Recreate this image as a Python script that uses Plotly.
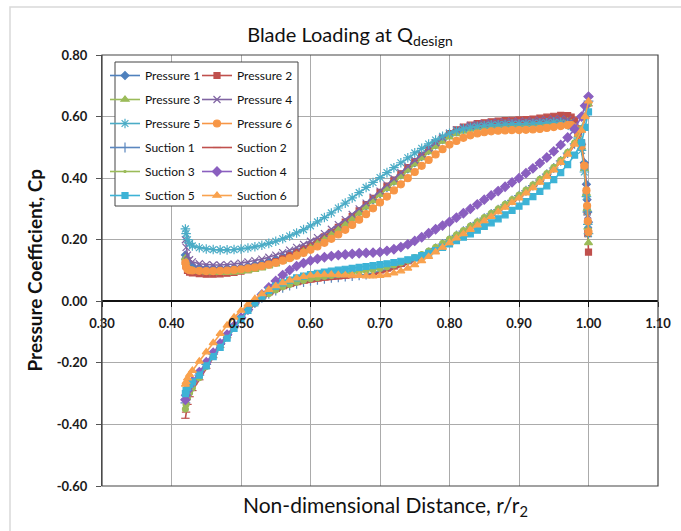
import plotly.graph_objects as go

# ---------------- data ----------------
x_p = [0.420, 0.421, 0.423, 0.426, 0.430,
       0.44, 0.45, 0.46, 0.47, 0.48, 0.49, 0.50, 0.51, 0.52, 0.53, 0.54, 0.55, 0.56, 0.57, 0.58, 0.59,
       0.60, 0.61, 0.62, 0.63, 0.64, 0.65, 0.66, 0.67, 0.68, 0.69, 0.70, 0.71, 0.72, 0.73, 0.74, 0.75,
       0.76, 0.77, 0.78, 0.79, 0.80, 0.81, 0.82, 0.83, 0.84, 0.85, 0.86, 0.87, 0.88, 0.89, 0.90, 0.91,
       0.92, 0.93, 0.94, 0.95, 0.96, 0.97,
       0.975, 0.980, 0.985, 0.990, 0.994, 0.997, 0.998, 0.999, 1.000]

pressure_1 = [0.150, 0.140, 0.125, 0.118, 0.114,
              0.110, 0.108, 0.107, 0.107, 0.108, 0.109, 0.110, 0.114, 0.118, 0.123, 0.129, 0.135, 0.143, 0.152, 0.162, 0.171,
              0.180, 0.193, 0.207, 0.222, 0.238, 0.255, 0.272, 0.290, 0.310, 0.330, 0.350, 0.370, 0.390, 0.410, 0.430, 0.450,
              0.470, 0.490, 0.508, 0.525, 0.540, 0.551, 0.559, 0.565, 0.570, 0.573, 0.576, 0.578, 0.579, 0.580, 0.580, 0.581,
              0.582, 0.584, 0.586, 0.588, 0.589, 0.587,
              0.582, 0.572, 0.550, 0.510, 0.450, 0.380, 0.330, 0.290, 0.257]
pressure_2 = [0.130, 0.115, 0.100, 0.095, 0.092,
              0.090, 0.088, 0.088, 0.089, 0.091, 0.094, 0.098, 0.103, 0.108, 0.114, 0.121, 0.129, 0.138, 0.148, 0.159, 0.170,
              0.182, 0.195, 0.209, 0.224, 0.240, 0.257, 0.275, 0.294, 0.314, 0.334, 0.354, 0.374, 0.394, 0.414, 0.434, 0.454,
              0.474, 0.494, 0.512, 0.529, 0.545, 0.557, 0.566, 0.572, 0.577, 0.580, 0.583, 0.585, 0.587, 0.588, 0.589, 0.590,
              0.592, 0.595, 0.598, 0.601, 0.604, 0.603,
              0.598, 0.588, 0.560, 0.515, 0.440, 0.350, 0.290, 0.220, 0.160]
pressure_3 = [0.140, 0.125, 0.110, 0.104, 0.100,
              0.097, 0.095, 0.094, 0.093, 0.093, 0.094, 0.096, 0.099, 0.103, 0.108, 0.114, 0.121, 0.130, 0.140, 0.151, 0.162,
              0.174, 0.187, 0.201, 0.216, 0.232, 0.249, 0.267, 0.286, 0.306, 0.326, 0.346, 0.366, 0.386, 0.406, 0.426, 0.446,
              0.466, 0.485, 0.503, 0.519, 0.533, 0.544, 0.552, 0.558, 0.562, 0.565, 0.567, 0.569, 0.570, 0.571, 0.572, 0.573,
              0.575, 0.577, 0.580, 0.583, 0.585, 0.584,
              0.578, 0.566, 0.540, 0.500, 0.430, 0.350, 0.300, 0.240, 0.190]
pressure_4 = [0.200, 0.175, 0.150, 0.135, 0.128,
              0.122, 0.119, 0.118, 0.118, 0.119, 0.121, 0.124, 0.128, 0.132, 0.137, 0.143, 0.150, 0.158, 0.166, 0.175, 0.185,
              0.195, 0.207, 0.220, 0.234, 0.249, 0.265, 0.282, 0.300, 0.319, 0.338, 0.358, 0.378, 0.398, 0.418, 0.438, 0.458,
              0.478, 0.497, 0.515, 0.531, 0.546, 0.557, 0.565, 0.571, 0.575, 0.578, 0.580, 0.582, 0.583, 0.584, 0.584, 0.585,
              0.586, 0.588, 0.590, 0.592, 0.593, 0.590,
              0.584, 0.572, 0.548, 0.505, 0.440, 0.370, 0.320, 0.280, 0.250]
pressure_5 = [0.235, 0.220, 0.200, 0.188, 0.180,
              0.174, 0.170, 0.168, 0.167, 0.167, 0.168, 0.170, 0.173, 0.177, 0.182, 0.188, 0.195, 0.203, 0.212, 0.222, 0.233,
              0.245, 0.258, 0.272, 0.287, 0.303, 0.319, 0.336, 0.353, 0.370, 0.386, 0.402, 0.418, 0.434, 0.450, 0.466, 0.482,
              0.497, 0.511, 0.524, 0.536, 0.546, 0.554, 0.560, 0.565, 0.568, 0.571, 0.573, 0.574, 0.575, 0.576, 0.576, 0.577,
              0.578, 0.579, 0.580, 0.581, 0.580, 0.575,
              0.568, 0.556, 0.530, 0.490, 0.420, 0.340, 0.290, 0.250, 0.220]
pressure_6 = [0.125, 0.112, 0.104, 0.101, 0.100,
              0.099, 0.098, 0.098, 0.099, 0.100, 0.102, 0.104, 0.107, 0.110, 0.114, 0.119, 0.125, 0.132, 0.140, 0.148, 0.157,
              0.167, 0.178, 0.190, 0.203, 0.217, 0.232, 0.248, 0.265, 0.283, 0.302, 0.321, 0.340, 0.360, 0.380, 0.400, 0.420,
              0.440, 0.459, 0.477, 0.494, 0.509, 0.521, 0.531, 0.539, 0.545, 0.549, 0.552, 0.554, 0.555, 0.556, 0.556, 0.557,
              0.558, 0.560, 0.563, 0.566, 0.569, 0.572,
              0.572, 0.565, 0.545, 0.505, 0.440, 0.360, 0.310, 0.260, 0.225]

x_s = [0.420, 0.421, 0.423, 0.426, 0.430,
       0.44, 0.45, 0.46, 0.47, 0.48, 0.49, 0.50, 0.51, 0.52, 0.53, 0.54, 0.55, 0.56, 0.57, 0.58, 0.59,
       0.60, 0.61, 0.62, 0.63, 0.64, 0.65, 0.66, 0.67, 0.68, 0.69, 0.70, 0.71, 0.72, 0.73, 0.74, 0.75,
       0.76, 0.77, 0.78, 0.79, 0.80, 0.81, 0.82, 0.83, 0.84, 0.85, 0.86, 0.87, 0.88, 0.89, 0.90, 0.91,
       0.92, 0.93, 0.94, 0.95, 0.96, 0.97, 0.98, 0.99,
       0.995, 1.000]

suction_1 = [-0.330, -0.318, -0.300, -0.285, -0.270,
             -0.240, -0.205, -0.172, -0.140, -0.110, -0.080, -0.052, -0.027, -0.006, 0.011, 0.024, 0.035, 0.044, 0.051, 0.057, 0.062,
             0.066, 0.070, 0.073, 0.076, 0.078, 0.080, 0.082, 0.084, 0.087, 0.091, 0.096, 0.102, 0.109, 0.117, 0.126, 0.136,
             0.147, 0.159, 0.172, 0.186, 0.200, 0.214, 0.228, 0.242, 0.256, 0.270, 0.284, 0.298, 0.313, 0.328, 0.343, 0.359,
             0.376, 0.394, 0.413, 0.433, 0.456, 0.481, 0.511, 0.555,
             0.600, 0.650]
suction_2 = [-0.380, -0.360, -0.335, -0.310, -0.290,
             -0.255, -0.218, -0.183, -0.150, -0.118, -0.087, -0.058, -0.032, -0.010, 0.008, 0.021, 0.032, 0.041, 0.048, 0.054, 0.059,
             0.063, 0.066, 0.069, 0.071, 0.073, 0.075, 0.077, 0.080, 0.083, 0.087, 0.092, 0.098, 0.105, 0.113, 0.122, 0.132,
             0.143, 0.155, 0.168, 0.182, 0.196, 0.210, 0.224, 0.238, 0.252, 0.266, 0.280, 0.294, 0.309, 0.324, 0.339, 0.355,
             0.372, 0.390, 0.409, 0.429, 0.452, 0.477, 0.507, 0.550,
             0.595, 0.635]
suction_3 = [-0.350, -0.335, -0.315, -0.298, -0.282,
             -0.248, -0.212, -0.178, -0.145, -0.114, -0.084, -0.055, -0.029, -0.007, 0.011, 0.025, 0.037, 0.047, 0.055, 0.062, 0.068,
             0.073, 0.077, 0.081, 0.084, 0.087, 0.090, 0.093, 0.096, 0.099, 0.103, 0.107, 0.112, 0.118, 0.125, 0.133, 0.142,
             0.152, 0.163, 0.175, 0.188, 0.202, 0.216, 0.230, 0.244, 0.258, 0.272, 0.286, 0.300, 0.315, 0.330, 0.345, 0.361,
             0.378, 0.396, 0.415, 0.435, 0.458, 0.484, 0.515, 0.560,
             0.600, 0.640]
suction_4 = [-0.320, -0.305, -0.290, -0.275, -0.260,
             -0.230, -0.198, -0.167, -0.137, -0.108, -0.080, -0.053, -0.027, -0.002, 0.022, 0.045, 0.066, 0.085, 0.101, 0.114, 0.124,
             0.132, 0.138, 0.143, 0.147, 0.150, 0.152, 0.154, 0.156, 0.157, 0.158, 0.160, 0.164, 0.169, 0.176, 0.185, 0.196,
             0.208, 0.221, 0.234, 0.246, 0.258, 0.272, 0.286, 0.300, 0.315, 0.330, 0.344, 0.358, 0.372, 0.386, 0.400, 0.416,
             0.432, 0.449, 0.467, 0.487, 0.508, 0.532, 0.560, 0.600,
             0.635, 0.665]
suction_5 = [-0.300, -0.290, -0.280, -0.270, -0.262,
             -0.240, -0.210, -0.180, -0.150, -0.120, -0.088, -0.058, -0.030, -0.005, 0.017, 0.035, 0.049, 0.060, 0.069, 0.076, 0.082,
             0.087, 0.091, 0.095, 0.098, 0.101, 0.104, 0.107, 0.110, 0.113, 0.116, 0.119, 0.122, 0.126, 0.130, 0.135, 0.141,
             0.148, 0.156, 0.165, 0.175, 0.186, 0.197, 0.208, 0.219, 0.231, 0.243, 0.255, 0.268, 0.281, 0.295, 0.309, 0.324,
             0.340, 0.357, 0.375, 0.395, 0.418, 0.444, 0.475, 0.515,
             0.565, 0.615]
suction_6 = [-0.270, -0.262, -0.250, -0.238, -0.225,
             -0.195, -0.165, -0.135, -0.105, -0.078, -0.052, -0.030, -0.010, 0.008, 0.024, 0.038, 0.050, 0.060, 0.068, 0.075, 0.080,
             0.084, 0.086, 0.087, 0.087, 0.086, 0.085, 0.084, 0.083, 0.082, 0.082, 0.083, 0.086, 0.091, 0.098, 0.107, 0.118,
             0.131, 0.145, 0.160, 0.175, 0.190, 0.205, 0.219, 0.233, 0.247, 0.261, 0.275, 0.290, 0.305, 0.320, 0.335, 0.351,
             0.368, 0.386, 0.405, 0.426, 0.450, 0.477, 0.510, 0.555,
             0.600, 0.650]

x_ticks = [0.30, 0.40, 0.50, 0.60, 0.70, 0.80, 0.90, 1.00, 1.10]
y_ticks = [-0.60, -0.40, -0.20, 0.00, 0.20, 0.40, 0.60, 0.80]

# (name, x, y, color, marker symbol, marker size, legend column)
series = [
    ("Pressure 1", x_p, pressure_1, "#4F81BD", "diamond", 6, "legend"),
    ("Pressure 2", x_p, pressure_2, "#C0504D", "square", 6, "legend2"),
    ("Pressure 3", x_p, pressure_3, "#9BBB59", "triangle-up", 7, "legend"),
    ("Pressure 4", x_p, pressure_4, "#8064A2", "x-thin-open", 7, "legend2"),
    ("Pressure 5", x_p, pressure_5, "#4BACC6", "asterisk-open", 8, "legend"),
    ("Pressure 6", x_p, pressure_6, "#F79646", "circle", 7, "legend2"),
    ("Suction 1", x_s, suction_1, "#5B87BF", "cross-thin-open", 7, "legend"),
    ("Suction 2", x_s, suction_2, "#C0504D", "line-ew-open", 6, "legend2"),
    ("Suction 3", x_s, suction_3, "#9BBB59", "circle", 0, "legend"),
    ("Suction 4", x_s, suction_4, "#8A5FBF", "diamond", 7, "legend2"),
    ("Suction 5", x_s, suction_5, "#3DB3D6", "square", 6, "legend"),
    ("Suction 6", x_s, suction_6, "#F9A24E", "triangle-up", 7, "legend2"),
]

L, R, T, B = 102, 23, 55, 45
W, H = 681, 531
pw, ph = W - L - R, H - T - B


def px2paper_x(px):
    return (px - L) / pw


def py2paper_y(py):
    return (H - B - py) / ph


fig = go.Figure()
for i, (name, xs, ys, col, sym, ms, lg) in enumerate(series):
    fig.add_trace(go.Scatter(
        x=xs, y=ys, name=name, mode="lines+markers",
        line=dict(color=col, width=1.6),
        marker=dict(symbol=sym, size=ms, color=col, line=dict(color=col, width=1.2)),
        legend=lg, legendgroup=f"g{i}",
    ))

font_family = "Lato, Carlito, 'Open Sans', sans-serif"
tickfont = dict(family=font_family, size=13, color="#1a1a1a", weight="bold")

fig.update_layout(
    width=W, height=H,
    margin=dict(l=L, r=R, t=T, b=B, autoexpand=False),
    paper_bgcolor="white", plot_bgcolor="white",
    title=dict(text="Blade Loading at Q<sub>design</sub>", x=350 / W, y=1 - 35 / H,
               xanchor="center", yanchor="middle", xref="container", yref="container",
               font=dict(family=font_family, size=20, color="#111")),
    xaxis=dict(range=[0.30, 1.10], tickvals=x_ticks, ticktext=[f"{v:.2f}" for v in x_ticks],
               showgrid=True, gridcolor="#ababab", gridwidth=1,
               zeroline=False, showline=True, linecolor="#111", linewidth=1.5,
               ticks="outside", ticklen=5, tickcolor="#111", ticklabelstandoff=5,
               anchor="free", position=0.6 / 1.4,
               tickfont=tickfont),
    yaxis=dict(range=[-0.60, 0.80], tickvals=y_ticks, ticktext=[f"{v:.2f}" for v in y_ticks],
               showgrid=True, gridcolor="#ababab", gridwidth=1,
               zeroline=False, showline=True, linecolor="#555", linewidth=1.2,
               ticks="outside", ticklen=5, tickcolor="#555", ticklabelstandoff=6,
               tickfont=tickfont),
    legend=dict(x=px2paper_x(105), y=py2paper_y(61), xanchor="left", yanchor="top",
                bgcolor="rgba(0,0,0,0)", borderwidth=0, tracegroupgap=5,
                font=dict(family=font_family, size=12, color="#111")),
    legend2=dict(x=px2paper_x(197), y=py2paper_y(61), xanchor="left", yanchor="top",
                 bgcolor="rgba(0,0,0,0)", borderwidth=0, tracegroupgap=5,
                 font=dict(family=font_family, size=12, color="#111")),
    showlegend=True,
)

shapes = [
    # plot-area frame
    dict(type="rect", xref="paper", yref="paper", x0=0, x1=1, y0=0, y1=1,
         line=dict(color="#444", width=1.2), layer="above"),
    # legend box
    dict(type="rect", xref="paper", yref="paper",
         x0=px2paper_x(115), x1=px2paper_x(298), y0=py2paper_y(206), y1=py2paper_y(62),
         line=dict(color="#444", width=1), fillcolor="white", layer="above"),
    # outer chart frame
    dict(type="rect", xref="paper", yref="paper",
         x0=px2paper_x(10), x1=px2paper_x(700), y0=py2paper_y(560), y1=py2paper_y(7),
         line=dict(color="#d9d9d9", width=1.5), layer="below"),
]
fig.update_layout(shapes=shapes)

fig.add_annotation(text="<b>Pressure Coefficient, Cp</b>", xref="paper", yref="paper",
                   x=px2paper_x(34), y=0.5, textangle=-90, showarrow=False,
                   xanchor="center", yanchor="middle",
                   font=dict(family=font_family, size=19, color="#111"))
fig.add_annotation(text="Non-dimensional Distance, r/r<sub>2</sub>", xref="paper", yref="paper",
                   x=px2paper_x(385), y=py2paper_y(506), showarrow=False,
                   xanchor="center", yanchor="middle",
                   font=dict(family=font_family, size=21, color="#111"))

fig.write_html("out.html")
